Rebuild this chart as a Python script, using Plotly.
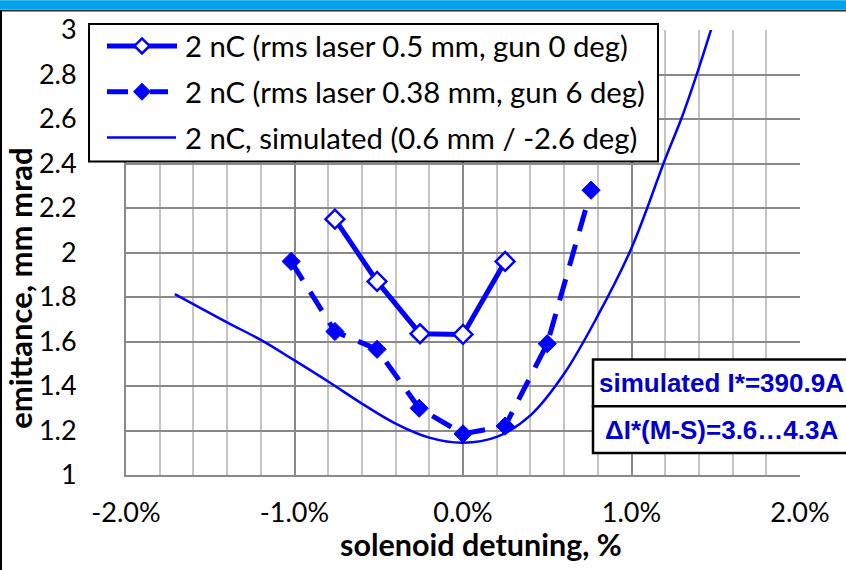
import plotly.graph_objects as go

# Measured emittance vs solenoid detuning
det_a = [-0.76, -0.51, -0.255, 0.0, 0.25]
emit_a = [2.15, 1.87, 1.635, 1.632, 1.96]

det_b = [-1.02, -0.76, -0.51, -0.26, 0.0, 0.25, 0.5, 0.76]
emit_b = [1.96, 1.645, 1.565, 1.30, 1.185, 1.22, 1.59, 2.28]

# Simulated curve
det_sim = [-1.71, -1.4, -1.2, -1.0, -0.8, -0.6, -0.4, -0.2, 0.0, 0.2, 0.4,
           0.6, 0.8, 1.0, 1.2, 1.3, 1.4, 1.5]
emit_sim = [1.813, 1.686, 1.607, 1.515, 1.42, 1.321, 1.231, 1.168, 1.145, 1.171,
            1.268, 1.455, 1.716, 2.02, 2.42, 2.61, 2.83, 3.07]

x_tickvals = [-2, -1, 0, 1, 2]
x_ticktext = ["-2.0%", "-1.0%", "0.0%", "1.0%", "2.0%"]

legend_labels = ["2 nC (rms laser 0.5 mm, gun 0 deg)",
                 "2 nC (rms laser 0.38 mm, gun 6 deg)",
                 "2 nC, simulated (0.6 mm / -2.6 deg)"]
box_labels = ["simulated I*=390.9A", "\u0394I*(M-S)=3.6\u20264.3A"]

W, H = 846, 570
L, R, T, B = 126, 800, 28, 475
BLUE = "#0000FF"


def px(x):
    return (x - L) / (R - L)


def py(y):
    return (B - y) / (B - T)


fig = go.Figure()

fig.add_trace(go.Scatter(
    x=det_sim, y=emit_sim, mode="lines", line=dict(color=BLUE, width=2.5, shape="spline", smoothing=1.0),
    showlegend=False, hoverinfo="skip"))
fig.add_trace(go.Scatter(
    x=det_b, y=emit_b, mode="lines+markers",
    line=dict(color=BLUE, width=5, dash="22px,14px"),
    marker=dict(symbol="diamond", size=14, color=BLUE, line=dict(color=BLUE, width=1)),
    showlegend=False))
fig.add_trace(go.Scatter(
    x=det_a, y=emit_a, mode="lines+markers",
    line=dict(color=BLUE, width=5),
    marker=dict(symbol="diamond", size=14.5, color="white", line=dict(color=BLUE, width=2.5)),
    showlegend=False))

shapes = []
annotations = []

# page frame: blue band on top, dark rule, left rule
shapes.append(dict(type="rect", xref="paper", yref="paper", x0=px(-2), x1=px(W + 2),
                   y0=py(7), y1=py(-2), fillcolor="#00A2E8", line=dict(width=0), layer="above"))
shapes.append(dict(type="line", xref="paper", yref="paper", x0=px(-2), x1=px(W + 2),
                   y0=py(8.5), y1=py(8.5), line=dict(color="#303030", width=2), layer="above"))
shapes.append(dict(type="line", xref="paper", yref="paper", x0=px(1), x1=px(1),
                   y0=py(8), y1=py(H + 2), line=dict(color="#000000", width=2), layer="above"))

# legend box
shapes.append(dict(type="rect", xref="paper", yref="paper", x0=px(89), x1=px(658),
                   y0=py(160), y1=py(22), fillcolor="white",
                   line=dict(color="black", width=2), layer="above"))
rows = [44, 90, 136]
# row 1: solid line with open diamond
shapes.append(dict(type="line", xref="paper", yref="paper", x0=px(107), x1=px(177),
                   y0=py(rows[0]), y1=py(rows[0]), line=dict(color=BLUE, width=5), layer="above"))
# row 2: dashed line with filled diamond
for a, b in [(107, 128), (150, 168)]:
    shapes.append(dict(type="line", xref="paper", yref="paper", x0=px(a), x1=px(b),
                       y0=py(rows[1]), y1=py(rows[1]), line=dict(color=BLUE, width=5), layer="above"))
# row 3: thin line
shapes.append(dict(type="line", xref="paper", yref="paper", x0=px(107), x1=px(176),
                   y0=py(rows[2]), y1=py(rows[2]), line=dict(color=BLUE, width=2.5), layer="above"))


def diamond(cx, cy, r):
    pts = [(cx, cy - r), (cx + r, cy), (cx, cy + r), (cx - r, cy)]
    return "M " + " L ".join(f"{px(a):.5f},{py(b):.5f}" for a, b in pts) + " Z"


shapes.append(dict(type="path", xref="paper", yref="paper", path=diamond(142, rows[0], 7.5),
                   fillcolor="white", line=dict(color=BLUE, width=2.5), layer="above"))
shapes.append(dict(type="path", xref="paper", yref="paper", path=diamond(142, rows[1], 8.5),
                   fillcolor=BLUE, line=dict(color=BLUE, width=1), layer="above"))

for yrow, txt in zip(rows, legend_labels):
    annotations.append(dict(text=txt, xref="paper", yref="paper", x=px(183), y=py(yrow),
                            xanchor="left", yanchor="middle", showarrow=False,
                            font=dict(family="Lato", size=29.3, color="black")))

# info boxes
for (y0, y1), txt in zip([(359, 406), (406, 453)], box_labels):
    shapes.append(dict(type="rect", xref="paper", yref="paper", x0=px(593), x1=px(850),
                       y0=py(y1), y1=py(y0), fillcolor="white",
                       line=dict(color="black", width=2.5), layer="above"))
    annotations.append(dict(text=txt, xref="paper", yref="paper", x=px(721), y=py((y0 + y1) / 2),
                            xanchor="center", yanchor="middle", showarrow=False,
                            font=dict(family="Liberation Sans", size=26, color="#0000CC", weight="bold")))

# axis titles
annotations.append(dict(text="emittance, mm mrad", xref="paper", yref="paper", x=px(20), y=py(287),
                        xanchor="center", yanchor="middle", textangle=-90, showarrow=False,
                        font=dict(family="Lato", size=31, color="black", weight="bold")))
annotations.append(dict(text="solenoid detuning, %", xref="paper", yref="paper", x=px(481), y=py(544),
                        xanchor="center", yanchor="middle", showarrow=False,
                        font=dict(family="Lato", size=30.5, color="black", weight="bold")))

fig.update_layout(
    width=W, height=H,
    margin=dict(l=L, r=W - R, t=T, b=H - B, pad=0),
    paper_bgcolor="white", plot_bgcolor="white",
    showlegend=False,
    shapes=shapes, annotations=annotations,
    font=dict(family="Lato", color="black"),
)
fig.update_xaxes(
    range=[-2, 2], tickmode="array", tickvals=x_tickvals, ticktext=x_ticktext,
    showgrid=True, gridcolor="#898989", gridwidth=2,
    minor=dict(dtick=0.2, tick0=0, showgrid=True, gridcolor="#c4c4c4", gridwidth=2),
    zeroline=False, showline=True, linecolor="#898989", linewidth=2,
    ticks="", ticklabelstandoff=13, tickfont=dict(family="Lato", size=27, color="black"),
)
fig.update_yaxes(
    range=[1, 3], dtick=0.2, tick0=1,
    showgrid=True, gridcolor="#898989", gridwidth=2,
    zeroline=False, showline=True, linecolor="#898989", linewidth=2,
    ticks="", ticklabelstandoff=42, tickfont=dict(family="Lato", size=27, color="black"),
)

fig.write_html("out.html")
